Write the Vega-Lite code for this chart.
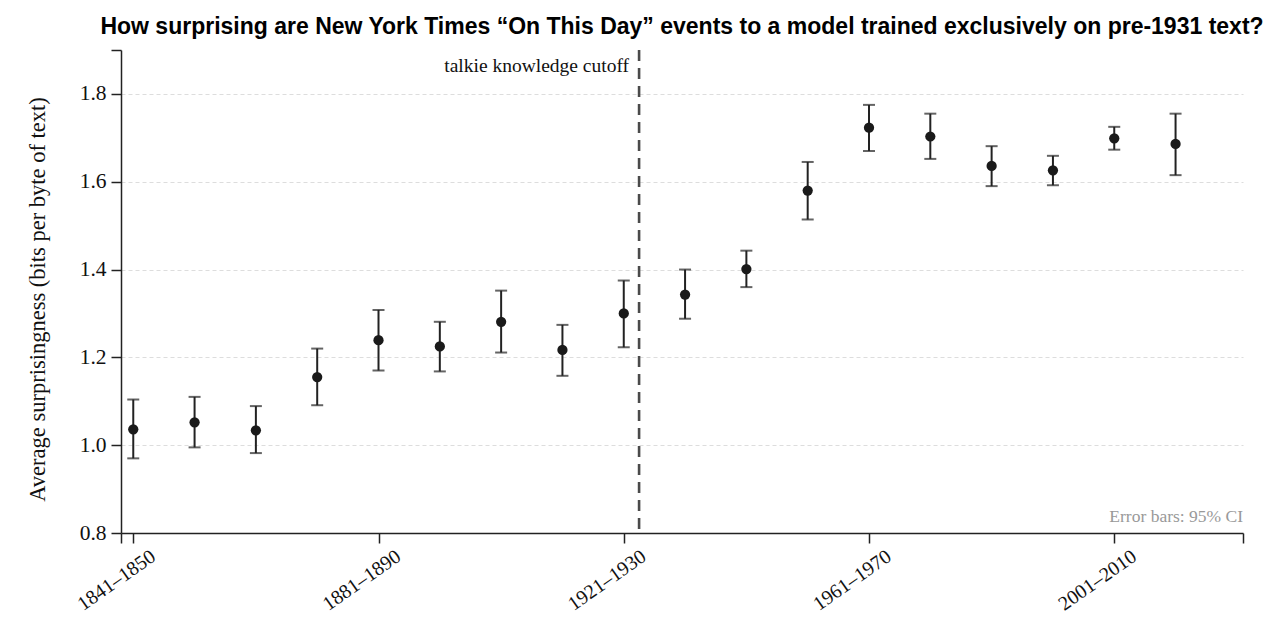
{
  "$schema": "https://vega.github.io/schema/vega-lite/v6.json",
  "autosize": "none",
  "width": 1122,
  "height": 483,
  "padding": {"left": 121, "top": 50, "right": 39, "bottom": 101},
  "background": "white",
  "title": {
    "text": "How surprising are New York Times “On This Day” events to a model trained exclusively on pre-1931 text?",
    "font": "Liberation Sans",
    "fontSize": 23,
    "fontWeight": "bold",
    "color": "#000000",
    "anchor": "middle",
    "offset": 10
  },
  "config": {
    "view": {"stroke": null},
    "axis": {
      "labelFont": "Liberation Serif",
      "titleFont": "Liberation Serif",
      "labelColor": "#111111",
      "titleColor": "#111111",
      "domainColor": "#222222",
      "tickColor": "#222222",
      "domainWidth": 1.5,
      "tickWidth": 1.5,
      "tickSize": 10
    }
  },
  "data": {
    "values": [
      {"start": 1841, "decade": "1841–1850", "mean": 1.036, "lo": 0.970, "hi": 1.104},
      {"start": 1851, "decade": "1851–1860", "mean": 1.052, "lo": 0.995, "hi": 1.110},
      {"start": 1861, "decade": "1861–1870", "mean": 1.034, "lo": 0.982, "hi": 1.089},
      {"start": 1871, "decade": "1871–1880", "mean": 1.155, "lo": 1.091, "hi": 1.220},
      {"start": 1881, "decade": "1881–1890", "mean": 1.239, "lo": 1.170, "hi": 1.308},
      {"start": 1891, "decade": "1891–1900", "mean": 1.225, "lo": 1.168, "hi": 1.281},
      {"start": 1901, "decade": "1901–1910", "mean": 1.281, "lo": 1.211, "hi": 1.352},
      {"start": 1911, "decade": "1911–1920", "mean": 1.217, "lo": 1.158, "hi": 1.274},
      {"start": 1921, "decade": "1921–1930", "mean": 1.300, "lo": 1.223, "hi": 1.375},
      {"start": 1931, "decade": "1931–1940", "mean": 1.343, "lo": 1.288, "hi": 1.400},
      {"start": 1941, "decade": "1941–1950", "mean": 1.401, "lo": 1.360, "hi": 1.443},
      {"start": 1951, "decade": "1951–1960", "mean": 1.580, "lo": 1.514, "hi": 1.645},
      {"start": 1961, "decade": "1961–1970", "mean": 1.723, "lo": 1.670, "hi": 1.775},
      {"start": 1971, "decade": "1971–1980", "mean": 1.703, "lo": 1.652, "hi": 1.755},
      {"start": 1981, "decade": "1981–1990", "mean": 1.636, "lo": 1.590, "hi": 1.681},
      {"start": 1991, "decade": "1991–2000", "mean": 1.626, "lo": 1.592, "hi": 1.659},
      {"start": 2001, "decade": "2001–2010", "mean": 1.699, "lo": 1.673, "hi": 1.725},
      {"start": 2011, "decade": "2011–2020", "mean": 1.686, "lo": 1.615, "hi": 1.755}
    ]
  },
  "encoding": {
    "x": {
      "field": "start",
      "type": "quantitative",
      "scale": {"domain": [1839, 2022], "nice": false, "zero": false},
      "axis": {
        "title": null,
        "grid": false,
        "values": [1839, 1841, 1881, 1921, 1961, 2001, 2022],
        "labelExpr": "datum.value == 1839 || datum.value == 2022 ? '' : datum.value + '–' + (datum.value + 9)",
        "labelAngle": -35,
        "labelAlign": "right",
        "labelBaseline": "top",
        "labelFontSize": 20,
        "labelPadding": 3,
        "labelOffset": 14,
        "labelFlush": false,
        "labelOverlap": false
      }
    }
  },
  "layer": [
    {
      "data": {"values": [{"cutoff": 1923.5}]},
      "mark": {"type": "rule", "color": "#4a4a4a", "strokeWidth": 2.6, "strokeDash": [11, 7]},
      "encoding": {
        "x": {"field": "cutoff", "type": "quantitative"}
      }
    },
    {
      "mark": {"type": "rule", "color": "#222222", "strokeWidth": 2},
      "encoding": {
        "y": {
          "field": "lo",
          "type": "quantitative",
          "scale": {"domain": [0.8, 1.9], "nice": false, "zero": false},
          "axis": {
            "title": "Average surprisingness (bits per byte of text)",
            "titleFontSize": 22.5,
            "titleFontWeight": "normal",
            "titlePadding": 30,
            "titleY": 249,
            "values": [0.8, 1.0, 1.2, 1.4, 1.6, 1.8, 1.9],
            "labelExpr": "datum.value > 1.85 ? '' : format(datum.value, '.1f')",
            "labelFontSize": 21.5,
            "labelPadding": 5,
            "labelFlush": false,
            "grid": true,
            "gridColor": "#dddddd",
            "gridDash": [4, 3],
            "gridWidth": 1.2,
            "gridOpacity": {"condition": {"test": "datum.value > 1.85 || datum.value < 0.85", "value": 0}, "value": 1}
          }
        },
        "y2": {"field": "hi"}
      }
    },
    {
      "mark": {"type": "tick", "orient": "horizontal", "color": "#222222", "size": 12, "thickness": 2},
      "encoding": {"y": {"field": "lo", "type": "quantitative"}}
    },
    {
      "mark": {"type": "tick", "orient": "horizontal", "color": "#222222", "size": 12, "thickness": 2},
      "encoding": {"y": {"field": "hi", "type": "quantitative"}}
    },
    {
      "mark": {"type": "circle", "color": "#1a1a1a", "opacity": 1, "size": 105},
      "encoding": {"y": {"field": "mean", "type": "quantitative"}}
    },
    {
      "data": {"values": [{"cutoff": 1923.5, "top": 1.9, "label": "talkie knowledge cutoff"}]},
      "mark": {"type": "text", "font": "Liberation Serif", "fontSize": 19.5, "align": "right", "baseline": "alphabetic", "dx": -10, "dy": 22, "color": "#111111"},
      "encoding": {
        "x": {"field": "cutoff", "type": "quantitative"},
        "y": {"field": "top", "type": "quantitative"},
        "text": {"field": "label"}
      }
    },
    {
      "data": {"values": [{"right": 2022, "bottom": 0.8, "label": "Error bars: 95% CI"}]},
      "mark": {"type": "text", "font": "Liberation Serif", "fontSize": 17.5, "align": "right", "baseline": "alphabetic", "dy": -11, "color": "#999999"},
      "encoding": {
        "x": {"field": "right", "type": "quantitative"},
        "y": {"field": "bottom", "type": "quantitative"},
        "text": {"field": "label"}
      }
    }
  ]
}
